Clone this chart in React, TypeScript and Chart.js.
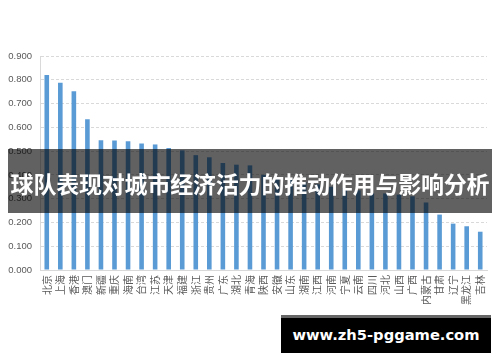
import React, { useEffect, useRef } from "react";
import { Chart, registerables } from "chart.js";

Chart.register(...registerables);

const categories = [
  "北京", "上海", "香港", "澳门", "新疆", "重庆", "海南", "台湾", "江苏", "天津", "福建",
  "浙江", "贵州", "广东", "湖北", "青海", "陕西", "安徽", "山东", "湖南", "江西", "河南",
  "宁夏", "云南", "四川", "河北", "山西", "广西", "内蒙古", "甘肃", "辽宁", "黑龙江", "吉林",
];

const values = [
  0.82, 0.787, 0.752, 0.634, 0.546, 0.545, 0.541, 0.532, 0.528, 0.513, 0.503,
  0.483, 0.474, 0.45, 0.443, 0.44, 0.4, 0.39, 0.38, 0.37, 0.36, 0.35,
  0.345, 0.335, 0.322, 0.322, 0.317, 0.31, 0.284, 0.233, 0.195, 0.184, 0.161,
];

const yMin = 0;
const yMax = 0.9;
const yStep = 0.1;

const titleText = "球队表现对城市经济活力的推动作用与影响分析";
const watermarkText = "www.zh5-pggame.com";

export default function App() {
  const canvasRef = useRef<HTMLCanvasElement | null>(null);

  useEffect(() => {
    const canvas = canvasRef.current;
    if (!canvas) return;
    const chart = new Chart(canvas, {
      type: "bar",
      data: {
        labels: categories,
        datasets: [
          {
            data: values,
            backgroundColor: "#5B9BD5",
            borderWidth: 0,
            barPercentage: 0.34,
            categoryPercentage: 1,
          },
        ],
      },
      options: {
        animation: false,
        responsive: false,
        devicePixelRatio: 1,
        layout: { padding: { top: 56, right: 13, bottom: 0, left: 0 } },
        plugins: {
          legend: { display: false },
          tooltip: { enabled: false },
          title: { display: false },
        },
        scales: {
          x: {
            offset: true,
            grid: { display: false, drawTicks: false },
            border: { display: true, color: "#D9D9D9", width: 1 },
            ticks: {
              autoSkip: false,
              minRotation: 90,
              maxRotation: 90,
              padding: 5,
              color: "#595959",
              font: { family: "'Noto Sans CJK SC'", size: 10 },
            },
            afterFit: (s: any) => {
              s.height = 92;
            },
          },
          y: {
            min: yMin,
            max: yMax,
            grid: {
              color: "#D9D9D9",
              lineWidth: 1,
              drawTicks: false,
            },
            border: { display: true, color: "#D9D9D9", width: 1, dash: [3, 2] },
            ticks: {
              stepSize: yStep,
              padding: 8,
              color: "#595959",
              font: { family: "'Liberation Sans'", size: 9.5 },
              callback: (v: any) => Number(v).toFixed(3),
            },
            afterFit: (s: any) => {
              s.width = 40;
            },
          },
        },
      },
      plugins: [
        {
          id: "solidAxes",
          afterDraw: (c: any) => {
            const { ctx, chartArea } = c;
            ctx.save();
            ctx.strokeStyle = "#D9D9D9";
            ctx.lineWidth = 1;
            ctx.setLineDash([]);
            ctx.beginPath();
            ctx.moveTo(chartArea.left + 0.5, chartArea.top);
            ctx.lineTo(chartArea.left + 0.5, chartArea.bottom);
            ctx.stroke();
            ctx.beginPath();
            ctx.moveTo(chartArea.left, chartArea.bottom + 0.5);
            ctx.lineTo(chartArea.right, chartArea.bottom + 0.5);
            ctx.stroke();
            ctx.restore();
          },
        },
      ],
    });
    return () => chart.destroy();
  }, []);

  return (
    <div
      style={{
        position: "fixed",
        left: 0,
        top: 0,
        width: 500,
        height: 362,
        background: "#fff",
        overflow: "hidden",
      }}
    >
      <canvas ref={canvasRef} width={500} height={362} style={{ width: 500, height: 362, display: "block" }} />
      <div
        style={{
          position: "absolute",
          left: 8,
          top: 149,
          width: 484,
          height: 64,
          background: "rgba(0,0,0,0.62)",
          display: "flex",
          alignItems: "center",
          justifyContent: "center",
          paddingTop: 4,
          boxSizing: "border-box",
        }}
      >
        <span
          style={{
            color: "#fff",
            fontFamily: "'Noto Sans CJK SC'",
            fontWeight: 700,
            fontSize: 23,
            letterSpacing: -0.2,
            whiteSpace: "nowrap",
            lineHeight: 1,
          }}
        >
          {titleText}
        </span>
      </div>
      <div
        style={{
          position: "absolute",
          left: 281,
          top: 315,
          width: 210,
          height: 38,
          background: "#000",
          borderTop: "3px solid #666",
          boxSizing: "border-box",
          display: "flex",
          alignItems: "center",
          justifyContent: "center",
        }}
      >
        <span
          style={{
            color: "#fff",
            fontFamily: "'DejaVu Sans'",
            fontWeight: 700,
            fontSize: 14.7,
            whiteSpace: "nowrap",
            lineHeight: 1,
          }}
        >
          {watermarkText}
        </span>
      </div>
    </div>
  );
}
